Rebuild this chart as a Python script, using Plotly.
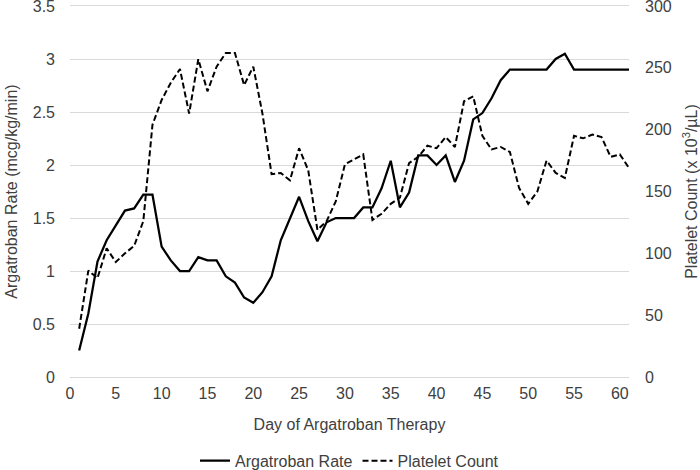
import plotly.graph_objects as go

days = list(range(1, 62))
argatroban_rate = [
    0.25, 0.60, 1.09, 1.29, 1.43, 1.57, 1.59, 1.72, 1.72, 1.23,
    1.10, 1.00, 1.00, 1.13, 1.10, 1.10, 0.95, 0.89, 0.75, 0.70,
    0.80, 0.95, 1.29, 1.50, 1.70, 1.47, 1.28, 1.46, 1.50, 1.50,
    1.50, 1.60, 1.60, 1.78, 2.04, 1.60, 1.74, 2.09, 2.09, 2.00,
    2.09, 1.84, 2.04, 2.43, 2.49, 2.63, 2.80, 2.90, 2.90, 2.90,
    2.90, 2.90, 3.00, 3.05, 2.90, 2.90, 2.90, 2.90, 2.90, 2.90,
    2.90,
]
platelet_count = [
    39, 86, 80, 104, 93, 100, 106, 126, 204, 224,
    238, 249, 213, 257, 231, 251, 262, 262, 236, 251,
    213, 164, 165, 159, 185, 167, 119, 126, 142, 172,
    176, 180, 127, 132, 140, 145, 173, 178, 187, 185,
    194, 186, 223, 227, 195, 184, 186, 182, 153, 140,
    150, 175, 165, 161, 195, 193, 196, 194, 178, 180,
    169,
]

x_ticks = list(range(0, 61, 5))
left_ticks = [0, 0.5, 1, 1.5, 2, 2.5, 3, 3.5]
right_ticks = [0, 50, 100, 150, 200, 250, 300]

FONT = "Liberation Sans"
TXT = "#404040"
GRID = "#d9d9d9"

fig = go.Figure()
fig.add_trace(go.Scatter(
    x=days, y=argatroban_rate, name="Argatroban Rate", mode="lines",
    line=dict(color="black", width=2.25), yaxis="y",
))
fig.add_trace(go.Scatter(
    x=days, y=platelet_count, name="Platelet Count", mode="lines",
    line=dict(color="black", width=2, dash="6px,3px"), yaxis="y2",
))

fig.update_layout(
    width=700, height=470,
    margin=dict(l=70, r=71, t=6, b=93, autoexpand=False),
    paper_bgcolor="white", plot_bgcolor="white",
    font=dict(family=FONT, size=16, color=TXT),
    showlegend=True,
    legend=dict(orientation="h", x=0.5, xanchor="center", y=-0.18, yanchor="top",
                font=dict(size=16, color=TXT), itemwidth=30),
    xaxis=dict(
        range=[0, 61], tickmode="array", tickvals=x_ticks,
        ticktext=[str(v) for v in x_ticks],
        showgrid=False, zeroline=False, ticks="",
        showline=True, linecolor=GRID, linewidth=1, mirror=True,
        ticklabelstandoff=2, automargin=False,
        title=dict(text="Day of Argatroban Therapy", standoff=17, font=dict(size=16)),
    ),
    yaxis=dict(
        range=[0, 3.5], tickmode="array", tickvals=left_ticks,
        ticktext=["0", "0.5", "1", "1.5", "2", "2.5", "3", "3.5"],
        showgrid=True, gridcolor=GRID, gridwidth=1,
        zeroline=False, showline=False, ticks="",
        ticklabelstandoff=14, ticklabeloverflow="allow", automargin=False,
        title=dict(text="Argatroban Rate (mcg/kg/min)", standoff=11, font=dict(size=16)),
    ),
    yaxis2=dict(
        range=[0, 300], tickmode="array", tickvals=right_ticks,
        ticktext=[str(v) for v in right_ticks],
        overlaying="y", side="right", showgrid=False,
        zeroline=False, showline=False, ticks="",
        ticklabelstandoff=15, ticklabeloverflow="allow", automargin=False,
        title=dict(text="Platelet Count (x 10<sup>3</sup>/µL)", standoff=18, font=dict(size=16)),
    ),
)

fig.write_html("out.html", config={"displayModeBar": False},
               post_script="document.body.style.margin='0';")
